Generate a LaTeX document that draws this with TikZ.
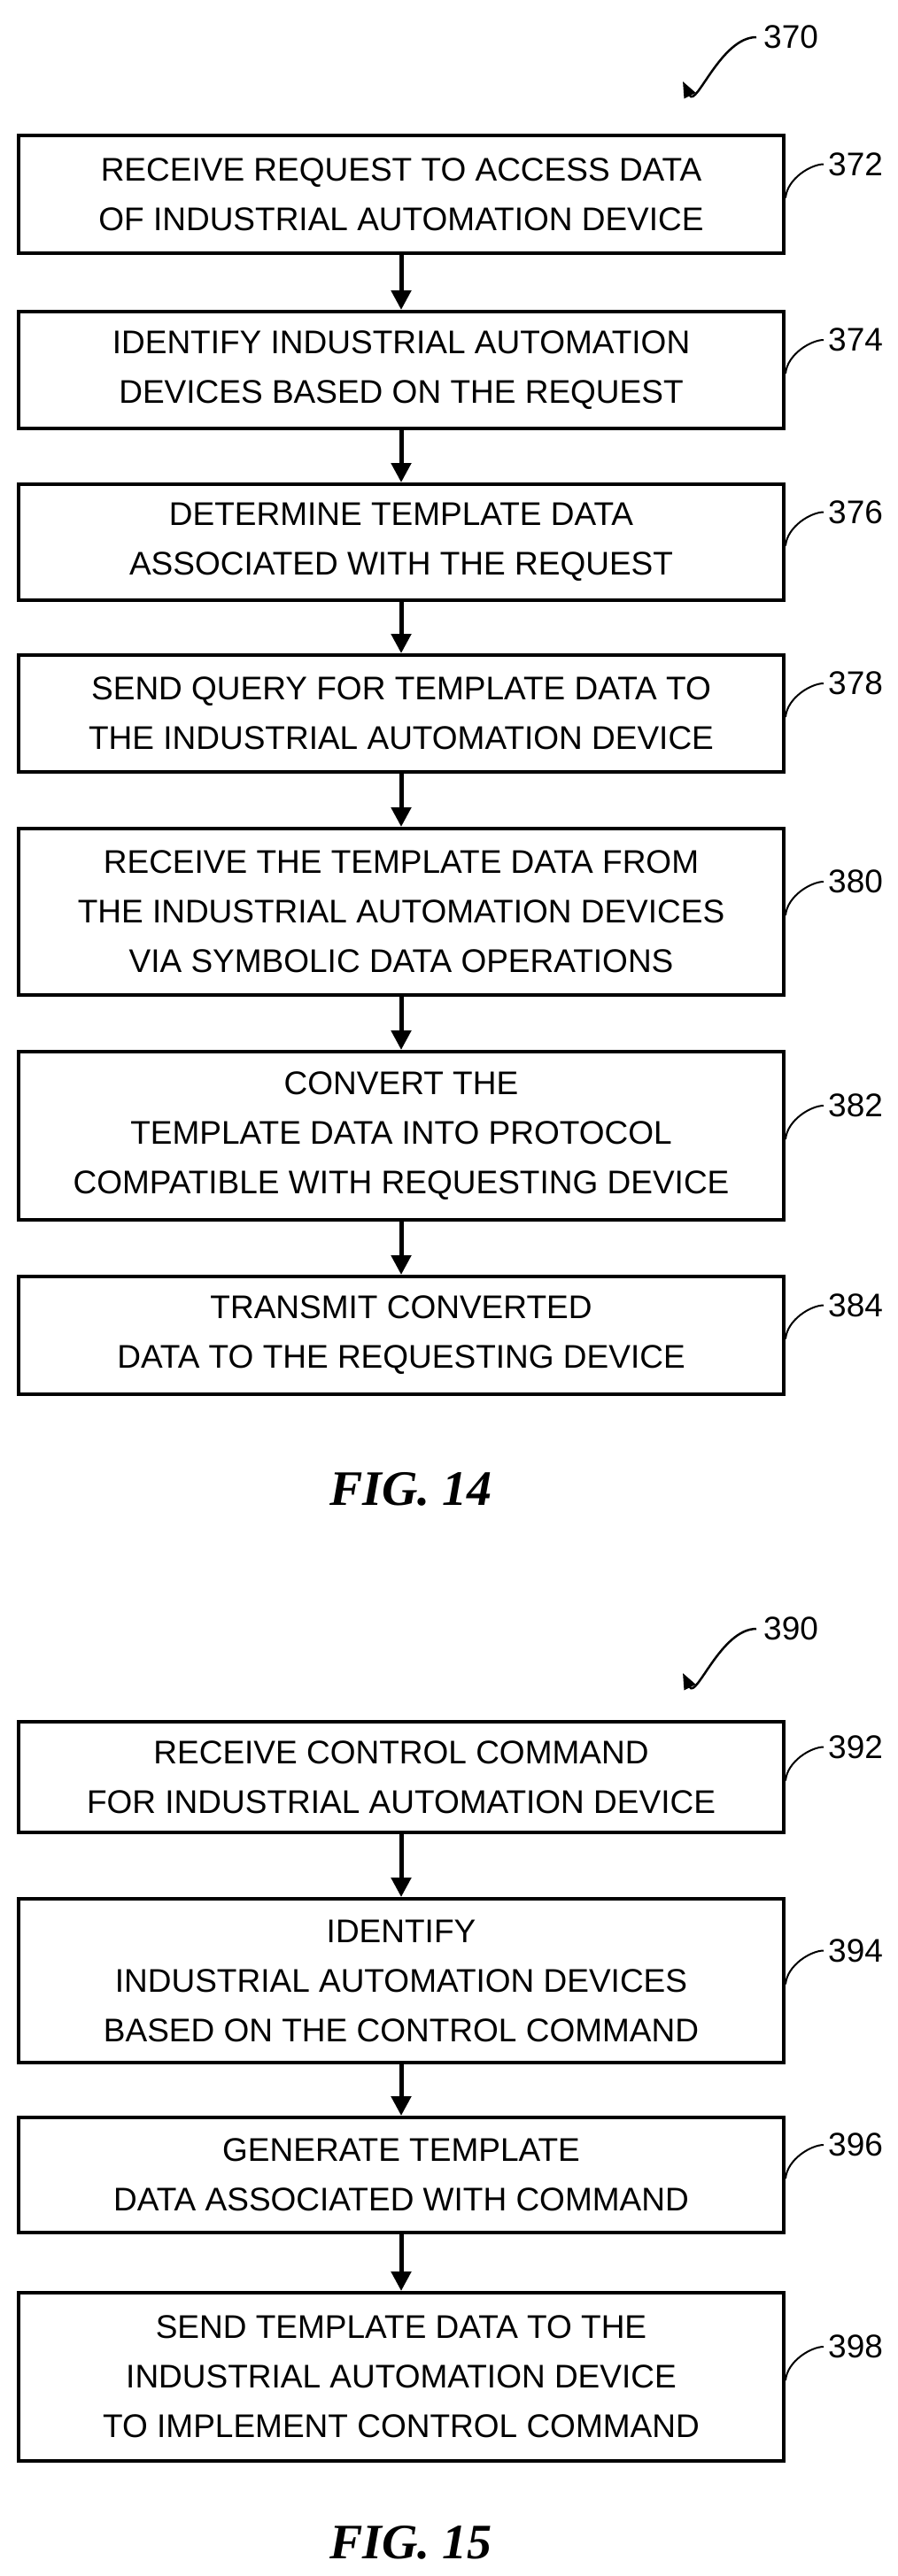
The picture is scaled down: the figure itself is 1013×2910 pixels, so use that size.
\documentclass[tikz,border=0pt]{standalone}
\usepackage{fontspec}
\setmainfont{Liberation Sans}
\newfontfamily\figfont{Liberation Serif}
\usetikzlibrary{arrows.meta}
\begin{document}
\begin{tikzpicture}[x=1pt,y=-1pt,
  box/.style={draw,line width=4pt,minimum width=864pt,align=center,inner sep=0pt,font=\fontsize{37}{56}\selectfont},
  flow/.style={line width=5pt,-{Triangle[length=22pt,width=22pt]}},
  lead/.style={line width=2pt},
  ref/.style={font=\fontsize{37}{40}\selectfont,anchor=west,inner sep=0pt},
  fig/.style={font=\fontsize{56}{60}\figfont\bfseries\itshape}]
\useasboundingbox (0,0) rectangle (1013,2910);
\def\bx#1#2#3#4{\node[box,minimum height=#3-#2] (#1) at (453,{(#2+#3)/2}) {#4};}
\bx{b372}{153}{286}{RECEIVE REQUEST TO ACCESS DATA\\OF INDUSTRIAL AUTOMATION DEVICE}
\bx{b374}{352}{484}{IDENTIFY INDUSTRIAL AUTOMATION\\DEVICES BASED ON THE REQUEST}
\bx{b376}{547}{678}{DETERMINE TEMPLATE DATA\\ASSOCIATED WITH THE REQUEST}
\bx{b378}{740}{872}{SEND QUERY FOR TEMPLATE DATA TO\\THE INDUSTRIAL AUTOMATION DEVICE}
\bx{b380}{936}{1124}{RECEIVE THE TEMPLATE DATA FROM\\THE INDUSTRIAL AUTOMATION DEVICES\\VIA SYMBOLIC DATA OPERATIONS}
\bx{b382}{1188}{1378}{CONVERT THE\\TEMPLATE DATA INTO PROTOCOL\\COMPATIBLE WITH REQUESTING DEVICE}
\bx{b384}{1442}{1575}{TRANSMIT CONVERTED\\DATA TO THE REQUESTING DEVICE}
\bx{b392}{1945}{2070}{RECEIVE CONTROL COMMAND\\FOR INDUSTRIAL AUTOMATION DEVICE}
\bx{b394}{2145}{2330}{IDENTIFY\\INDUSTRIAL AUTOMATION DEVICES\\BASED ON THE CONTROL COMMAND}
\bx{b396}{2392}{2522}{GENERATE TEMPLATE\\DATA ASSOCIATED WITH COMMAND}
\bx{b398}{2590}{2780}{SEND TEMPLATE DATA TO THE\\INDUSTRIAL AUTOMATION DEVICE\\TO IMPLEMENT CONTROL COMMAND}
\foreach \a/\b in {b372/b374,b374/b376,b376/b378,b378/b380,b380/b382,b382/b384,b392/b394,b394/b396,b396/b398}
  \draw[flow] (\a.south) -- (\b.north);
\foreach \n/\t in {b372/372,b374/374,b376/376,b378/378,b380/380,b382/382,b384/384,b392/392,b394/394,b396/396,b398/398}{
  \node[ref] (r\t) at ([xshift=48pt,yshift=34pt]\n.center -| \n.east) {\t};
  \draw[lead] ([yshift=-4pt]\n.east) .. controls +(2pt,22pt) and +(-14pt,0) .. ([xshift=-5pt]r\t.west);
}
\node[ref] (r370) at (862,42) {370};
\coordinate (e370) at (771,92);
\draw[line width=2.5pt,-{Triangle[length=18pt,width=14pt]}] ([xshift=-8pt]r370.west) .. controls +(-40pt,0) and +(15pt,-30pt) .. (e370);
\node[ref] (r390) at (862,1840) {390};
\coordinate (e390) at (771,1890);
\draw[line width=2.5pt,-{Triangle[length=18pt,width=14pt]}] ([xshift=-8pt]r390.west) .. controls +(-40pt,0) and +(15pt,-30pt) .. (e390);
\node[fig] (f14) at (464,1682) {FIG. 14};
\node[fig] (f15) at (464,2872) {FIG. 15};
\end{tikzpicture}
\end{document}
